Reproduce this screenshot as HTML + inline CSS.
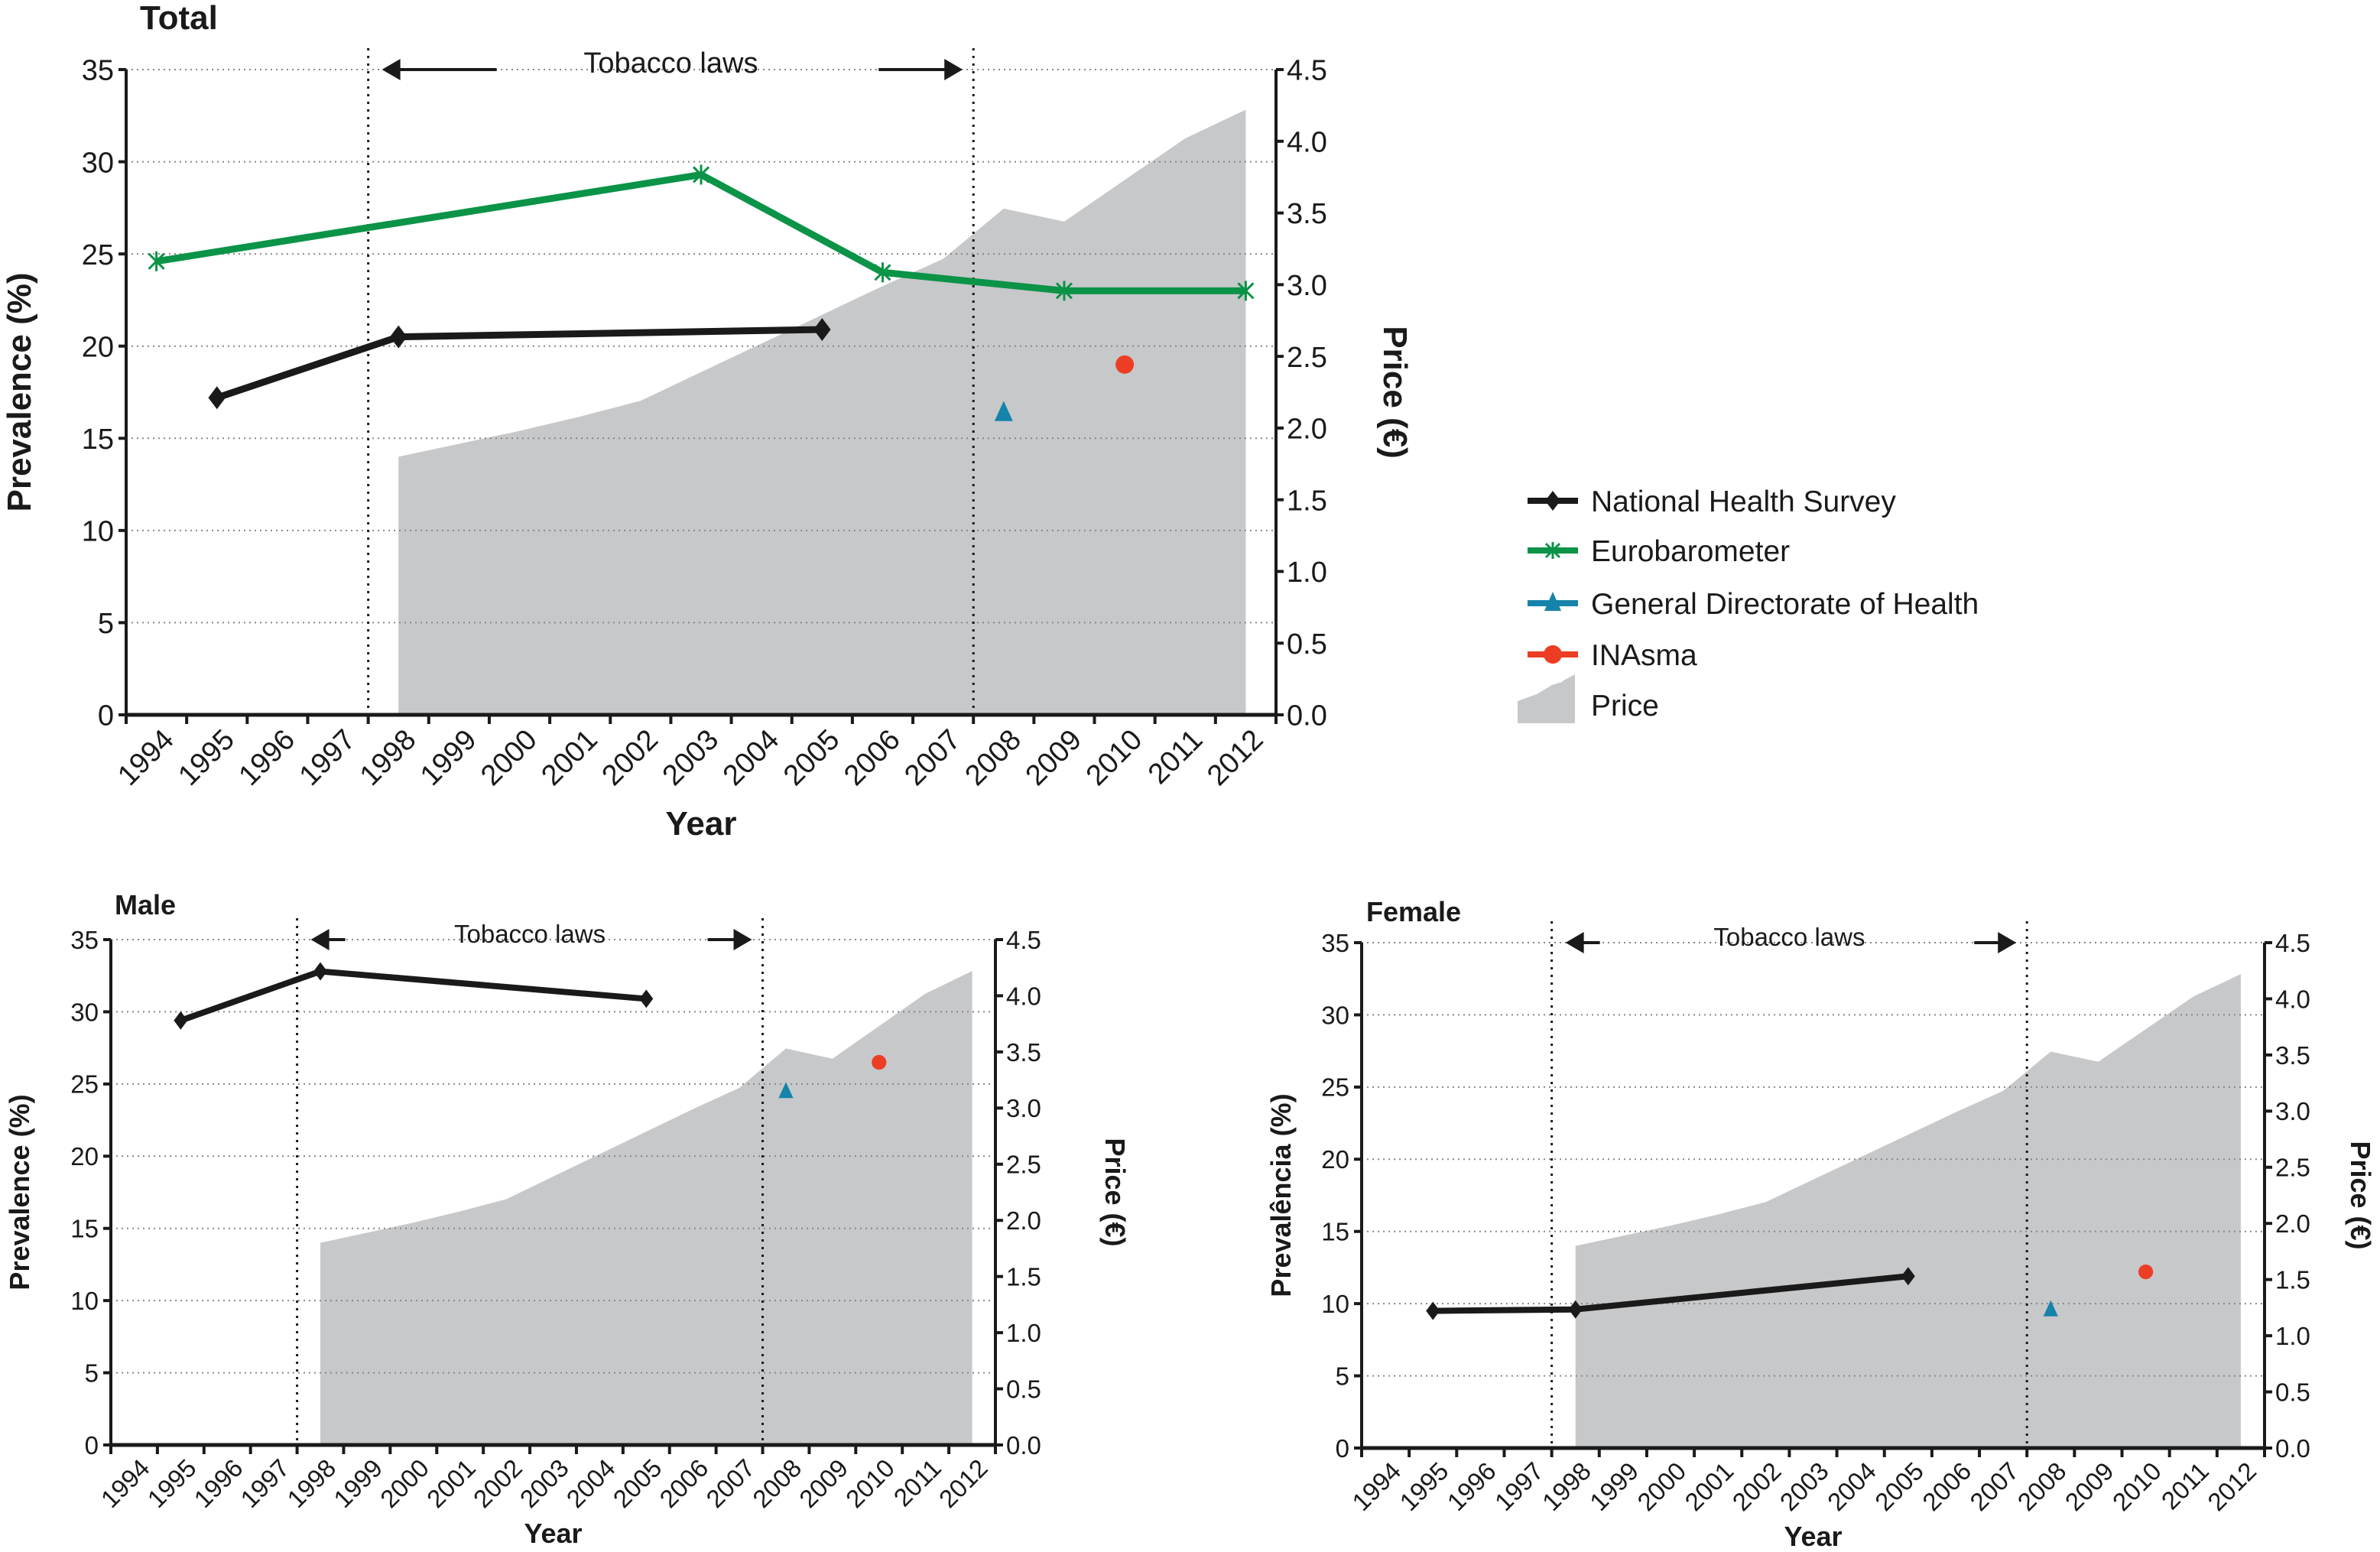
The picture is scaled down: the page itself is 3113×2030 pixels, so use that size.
<!DOCTYPE html>
<html><head><meta charset="utf-8"><style>
html,body{margin:0;padding:0;background:#fff}
svg{display:block;font-family:"Liberation Sans",sans-serif}
</style></head><body>
<svg id="chart" xmlns="http://www.w3.org/2000/svg" width="3113" height="2030" viewBox="0 0 3113 2030">
<rect x="0" y="0" width="3113" height="2030" fill="#fff"/>
<g id="legend" font-size="39" fill="#1a1a1a">
 <g>
  <line x1="1998" y1="655" x2="2064" y2="655" stroke="#1a1a1a" stroke-width="8"/>
  <polygon points="2031,642 2041,655 2031,668 2021,655" fill="#1a1a1a"/>
  <text x="2081" y="669">National Health Survey</text></g>
 <g>
  <line x1="1998" y1="720" x2="2064" y2="720" stroke="#0b9347" stroke-width="8"/>
  <g stroke="#0b9347" stroke-width="3"><line x1="2022" y1="711" x2="2040" y2="729"/><line x1="2040" y1="711" x2="2022" y2="729"/><line x1="2031" y1="709" x2="2031" y2="731"/></g>
  <text x="2081" y="734">Eurobarometer</text></g>
 <g>
  <line x1="1998" y1="789" x2="2064" y2="789" stroke="#1583aa" stroke-width="8"/>
  <polygon points="2031,774 2042,799 2020,799" fill="#1583aa"/>
  <text x="2081" y="803">General Directorate of Health</text></g>
 <g>
  <line x1="1998" y1="856" x2="2064" y2="856" stroke="#ec3e24" stroke-width="8"/>
  <circle cx="2031" cy="856" r="12" fill="#ec3e24"/>
  <text x="2081" y="870">INAsma</text></g>
 <g>
  <polygon points="1985,946 1985,917 2010,908 2030,896 2043,892 2045,890 2060,882 2060,946" fill="#c7c8ca"/>
  <text x="2081" y="936">Price</text></g>
</g>
</svg>
<script>
const years = [1994,1995,1996,1997,1998,1999,2000,2001,2002,2003,2004,2005,2006,2007,2008,2009,2010,2011,2012];
const prevTicks = [0,5,10,15,20,25,30,35];
const priceTicks = ["0.0","0.5","1.0","1.5","2.0","2.5","3.0","3.5","4.0","4.5"];
const priceYears = [1998,1999,2000,2001,2002,2003,2004,2005,2006,2007,2008,2009,2010,2011,2012];
const priceValues = [1.80,1.89,1.98,2.08,2.19,2.39,2.59,2.79,2.99,3.18,3.53,3.44,3.73,4.02,4.22];
const nhsYears = [1995,1998,2005];
const nhsTotal = [17.2,20.5,20.9];
const nhsMale = [29.4,32.8,30.9];
const nhsFemale = [9.5,9.6,11.9];
const euroYears = [1994,2003,2006,2009,2012];
const euroTotal = [24.6,29.3,24.0,23.0,23.0];
const dgsYear = 2008;
const dgsTotal = 16.4, dgsMale = 24.5, dgsFemale = 9.6;
const inasmaYear = 2010;
const inasmaTotal = 19.0, inasmaMale = 26.5, inasmaFemale = 12.2;
const lawStart = 1998, lawEnd = 2008;

const NS = "http://www.w3.org/2000/svg";
const svg = document.getElementById('chart');
function mk(tag, attrs, parent, txt){
  const e = document.createElementNS(NS, tag);
  for (const k in attrs) e.setAttribute(k, attrs[k]);
  if (txt !== undefined) e.textContent = txt;
  parent.appendChild(e);
  return e;
}
function panel(c){
  const g = mk('g', {}, svg);
  
  
  const bw = (c.x1 - c.x0) / years.length;
  const xC = y => c.x0 + (y - years[0] + 0.5) * bw;
  const xB = y => c.x0 + (y - years[0]) * bw;
  const yP = v => c.yb - v / 35 * (c.yb - c.yt);
  const yR = v => c.yb - v / 4.5 * (c.yb - c.yt);
  let pts = xC(priceYears[0]) + ',' + c.yb + ' ';
  priceYears.forEach((yr, i) => { pts += xC(yr) + ',' + yR(priceValues[i]) + ' '; });
  pts += xC(priceYears[priceYears.length-1]) + ',' + c.yb;
  const area = mk('polygon', {points: pts, fill: '#c7c8ca'}, g);
  
  
  prevTicks.forEach(t => {
    if (t === 0) return;
    const l = mk('line', {x1: c.x0, x2: c.x1, y1: yP(t), y2: yP(t), stroke: '#888', 'stroke-width': 2, 'stroke-dasharray': '2 5'}, g);
    
    
  });
  [lawStart, lawEnd].forEach(yr => {
    const l = mk('line', {x1: xB(yr), x2: xB(yr), y1: c.yt - 28, y2: c.yb, stroke: '#1a1a1a', 'stroke-width': 3, 'stroke-dasharray': '3 7'}, g);
    
    
  });
  const ay = c.yt;
  const la = xB(lawStart) + 18, ra = xB(lawEnd) - 14;
  mk('line', {x1: la + c.arrowL, x2: la + 10, y1: ay, y2: ay, stroke: '#1a1a1a', 'stroke-width': 4}, g);
  mk('polygon', {points: `${la},${ay} ${la+24},${ay-14} ${la+24},${ay+14}`, fill: '#1a1a1a'}, g);
  mk('line', {x1: ra - c.arrowR, x2: ra - 10, y1: ay, y2: ay, stroke: '#1a1a1a', 'stroke-width': 4}, g);
  mk('polygon', {points: `${ra},${ay} ${ra-24},${ay-14} ${ra-24},${ay+14}`, fill: '#1a1a1a'}, g);
  const tl = mk('text', {x: (xB(lawStart)+xB(lawEnd))/2, y: ay + 4, 'text-anchor': 'middle', 'font-size': c.fs, fill: '#1a1a1a'}, g, 'Tobacco laws');
  
  
  mk('line', {x1: c.x0, x2: c.x0, y1: c.yt, y2: c.yb + 2, stroke: '#1a1a1a', 'stroke-width': 4}, g);
  mk('line', {x1: c.x1, x2: c.x1, y1: c.yt, y2: c.yb + 2, stroke: '#1a1a1a', 'stroke-width': 4}, g);
  mk('line', {x1: c.x0, x2: c.x1, y1: c.yb, y2: c.yb, stroke: '#1a1a1a', 'stroke-width': 5}, g);
  prevTicks.forEach(t => {
    mk('line', {x1: c.x0 - 10, x2: c.x0, y1: yP(t), y2: yP(t), stroke: '#1a1a1a', 'stroke-width': 4}, g);
    const tx = mk('text', {x: c.x0 - 16, y: yP(t) + c.fs*0.36, 'text-anchor': 'end', 'font-size': c.fs, fill: '#1a1a1a'}, g, String(t));
    
    
  });
  priceTicks.forEach(t => {
    const v = parseFloat(t);
    mk('line', {x1: c.x1, x2: c.x1 + 10, y1: yR(v), y2: yR(v), stroke: '#1a1a1a', 'stroke-width': 4}, g);
    const tx = mk('text', {x: c.x1 + 14, y: yR(v) + c.fs*0.36, 'font-size': c.fs, fill: '#1a1a1a'}, g, t);
    
    
  });
  for (let i = 0; i <= years.length; i++) {
    mk('line', {x1: c.x0 + i*bw, x2: c.x0 + i*bw, y1: c.yb, y2: c.yb + 12, stroke: '#1a1a1a', 'stroke-width': 4}, g);
  }
  years.forEach(yr => {
    const cx = xC(yr) + 6, cy = c.yb + 16;
    const tx = mk('text', {x: 0, y: 0, 'text-anchor': 'end', 'font-size': c.yfs, fill: '#1a1a1a', transform: `translate(${cx},${cy}) rotate(-45) translate(0,${c.yfs*0.7})`}, g, String(yr));
    
    
  });
  const tt = mk('text', {x: c.tx, y: c.ty, 'font-size': c.tfs, 'font-weight': 'bold', fill: '#1a1a1a'}, g, c.title);
  
  
  const yt = mk('text', {x: 0, y: 0, 'text-anchor': 'middle', 'font-size': c.afs, 'font-weight': 'bold', fill: '#1a1a1a', transform: `translate(${c.ylx},${(c.yt+c.yb)/2}) rotate(-90)`}, g, c.ylabel || 'Prevalence (%)');
  
  
  const pt = mk('text', {x: 0, y: 0, 'text-anchor': 'middle', 'font-size': c.afs, 'font-weight': 'bold', fill: '#1a1a1a', transform: `translate(${c.prx},${(c.yt+c.yb)/2}) rotate(90)`}, g, 'Price (€)');
  
  
  const xt = mk('text', {x: (c.x0+c.x1)/2, y: c.xly, 'text-anchor': 'middle', 'font-size': c.afs, 'font-weight': 'bold', fill: '#1a1a1a'}, g, 'Year');
  
  
  if (c.euro) {
    const p = euroYears.map((yr, i) => xC(yr) + ',' + yP(c.euro[i])).join(' ');
    const l = mk('polyline', {points: p, fill: 'none', stroke: '#0b9347', 'stroke-width': 9, 'stroke-linejoin': 'round'}, g);
    
    
    euroYears.forEach((yr, i) => {
      const x = xC(yr), y = yP(c.euro[i]);
      const m = mk('g', {stroke: '#0b9347', 'stroke-width': 3}, g);
      
      
      mk('line', {x1: x-10, y1: y-10, x2: x+10, y2: y+10}, m);
      mk('line', {x1: x+10, y1: y-10, x2: x-10, y2: y+10}, m);
      mk('line', {x1: x, y1: y-13, x2: x, y2: y+13}, m);
    });
  }
  const np = nhsYears.map((yr, i) => xC(yr) + ',' + yP(c.nhs[i])).join(' ');
  const nl = mk('polyline', {points: np, fill: 'none', stroke: '#1a1a1a', 'stroke-width': c.lw, 'stroke-linejoin': 'round'}, g);
  
  
  nhsYears.forEach((yr, i) => {
    const x = xC(yr), y = yP(c.nhs[i]), s = c.ms;
    const d = mk('polygon', {points: `${x},${y-s} ${x+s*0.75},${y} ${x},${y+s} ${x-s*0.75},${y}`, fill: '#1a1a1a'}, g);
    
    
  });
  const dx = xC(dgsYear), dy = yP(c.dgs), s = c.ms;
  const tri = mk('polygon', {points: `${dx},${dy-s} ${dx+s*0.8},${dy+s*0.75} ${dx-s*0.8},${dy+s*0.75}`, fill: '#1583aa'}, g);
  
  
  const ci = mk('circle', {cx: xC(inasmaYear), cy: yP(c.inasma), r: s*0.8, fill: '#ec3e24'}, g);
  
  
}
panel({name: 'total-panel', title: 'Total', x0: 165, x1: 1669, yt: 91, yb: 935, fs: 38, yfs: 38, tfs: 44, afs: 44,
  tx: 183, ty: 38, ylx: 40, prx: 1810, xly: 1092, arrowL: 150, arrowR: 110,
  nhs: nhsTotal, euro: euroTotal, dgs: dgsTotal, inasma: inasmaTotal, lw: 9, ms: 15});
panel({name: 'male-panel', title: 'Male', x0: 145, x1: 1302, yt: 1229, yb: 1890, fs: 33, yfs: 33, tfs: 36, afs: 36,
  tx: 150, ty: 1196, ylx: 38, prx: 1446, xly: 2018, arrowL: 45, arrowR: 58,
  nhs: nhsMale, euro: null, dgs: dgsMale, inasma: inasmaMale, lw: 8, ms: 12});
panel({name: 'female-panel', title: 'Female', x0: 1781, x1: 2962, yt: 1233, yb: 1894, fs: 33, yfs: 33, tfs: 36, afs: 36,
  tx: 1787, ty: 1205, ylx: 1688, prx: 3075, xly: 2022, arrowL: 45, arrowR: 55,
  nhs: nhsFemale, euro: null, dgs: dgsFemale, inasma: inasmaFemale, lw: 8, ms: 12, ylabel: 'Prevalência (%)'});
</script>
</body></html>
